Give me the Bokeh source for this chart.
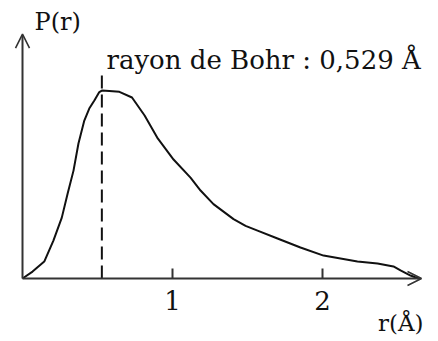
from bokeh.plotting import figure
from bokeh.models import Range1d, Arrow, OpenHead
from bokeh.core.properties import value
from bokeh.embed import file_html
from bokeh.resources import INLINE

# Radial probability density of the hydrogen 1s electron (arbitrary units, peak = 1)
r_angstrom = [0.0, 0.067, 0.145, 0.206, 0.262, 0.301, 0.340, 0.373, 0.412, 0.445,
              0.479, 0.512, 0.529, 0.579, 0.646, 0.730, 0.814, 0.898, 1.007, 1.12,
              1.187, 1.273, 1.407, 1.487, 1.567, 1.70, 1.853, 2.007, 2.233, 2.367,
              2.473, 2.52, 2.587, 2.64]
p_r = [0.0, 0.037, 0.090, 0.202, 0.324, 0.452, 0.574, 0.718, 0.840, 0.904,
       0.947, 0.992, 1.0, 0.998, 0.993, 0.963, 0.867, 0.750, 0.633, 0.537,
       0.468, 0.396, 0.316, 0.280, 0.255, 0.213, 0.165, 0.122, 0.090, 0.080,
       0.064, 0.043, 0.016, 0.0]

bohr_radius = 0.529
x_ticks = [1, 2]
x_tick_labels = ["1", "2"]

FONT = value("DejaVu Serif")
INK = "#111111"
AXIS = "#333333"

p = figure(width=438, height=341,
           x_range=Range1d(-0.1467, 2.7733), y_range=Range1d(-0.335, 1.479),
           x_axis_type=None, y_axis_type=None,
           output_backend="svg", toolbar_location=None, min_border=0)
p.outline_line_color = None
p.background_fill_color = "white"
p.border_fill_color = "white"

# axes drawn as arrows from the origin
p.add_layout(Arrow(end=OpenHead(size=14, line_width=1.6, line_color=AXIS),
                   x_start=0, y_start=0, x_end=2.66, y_end=0,
                   line_width=2, line_color=AXIS))
p.add_layout(Arrow(end=OpenHead(size=14, line_width=1.6, line_color=AXIS),
                   x_start=0, y_start=0, x_end=0, y_end=1.30,
                   line_width=2, line_color=AXIS))

# tick marks above the r axis
p.segment(x0=x_ticks, y0=[0] * len(x_ticks), x1=x_ticks, y1=[0.053] * len(x_ticks),
          line_width=2, line_color=AXIS)
p.text(x=x_ticks, y=[-0.117] * len(x_ticks), text=x_tick_labels,
       text_font=FONT, text_font_size="26px", text_color=INK,
       text_align="center", text_baseline="alphabetic")

# Bohr radius marker
p.segment(x0=[bohr_radius], y0=[0], x1=[bohr_radius], y1=[1.09],
          line_width=2, line_color=INK, line_dash="13 6")

# probability curve
p.line(r_angstrom, p_r, line_width=2, line_color=INK, line_join="round")

# labels
p.text(x=[0.08], y=[1.367], text=["P(r)"], text_font=FONT, text_font_size="24px",
       text_color=INK, text_baseline="alphabetic")
p.text(x=[0.56], y=[1.16], text=["rayon de Bohr : 0,529 Å"], text_font=FONT,
       text_font_size="26px", text_color=INK, text_baseline="alphabetic")
p.text(x=[2.37], y=[-0.235], text=["r(Å)"], text_font=FONT, text_font_size="23px",
       text_color=INK, text_baseline="alphabetic")

open("out.html", "w").write(file_html(p, INLINE))
